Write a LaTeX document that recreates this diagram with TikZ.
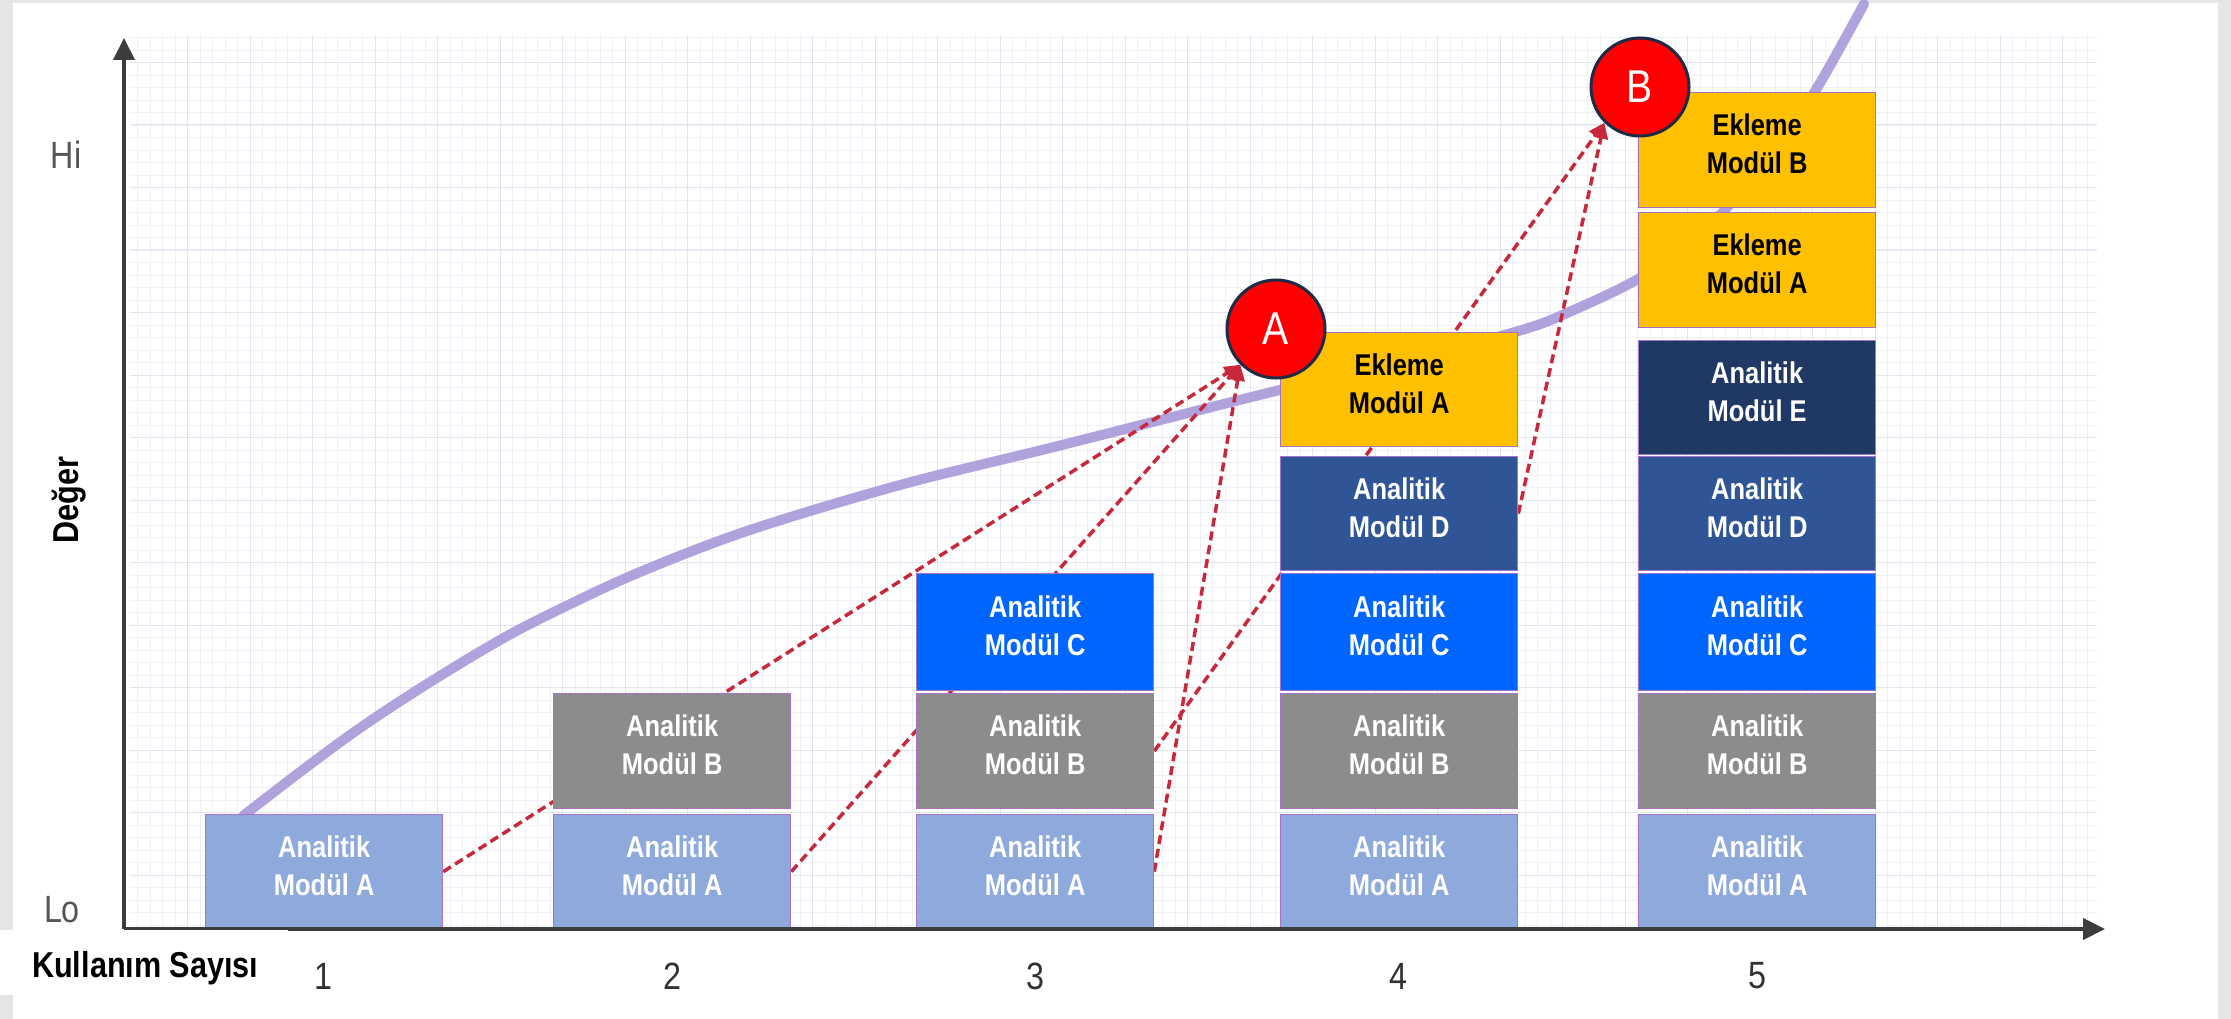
\documentclass[tikz,border=0pt]{standalone}
\usepackage{fontspec}
\setmainfont{Liberation Sans}
\newfontfamily\nar[FakeStretch=0.85]{Liberation Sans}
\usetikzlibrary{arrows.meta}
\definecolor{bgray}{RGB}{229,229,229}
\definecolor{cA}{RGB}{142,169,219}
\definecolor{cB}{RGB}{140,140,140}
\definecolor{cC}{RGB}{0,102,255}
\definecolor{cD}{RGB}{47,85,151}
\definecolor{cE}{RGB}{31,56,100}
\definecolor{cY}{RGB}{255,192,0}
\definecolor{edgec}{RGB}{165,115,205}
\definecolor{curvec}{RGB}{163,148,216}
\definecolor{arrc}{RGB}{200,40,60}
\definecolor{navyc}{RGB}{30,42,70}
\definecolor{axisc}{RGB}{60,60,60}
\definecolor{lblc}{RGB}{85,85,85}
\definecolor{numc}{RGB}{50,50,50}
\definecolor{gmin}{RGB}{238,240,247}
\definecolor{gmaj}{RGB}{226,229,240}
\pgfdeclarelayer{bgl}
\pgfdeclarelayer{curvel}
\pgfdeclarelayer{arrl}
\pgfsetlayers{bgl,curvel,arrl,main}
\newcommand\modbox[7]{%
  \node[modbox, minimum height=#4pt, fill=#5] (#1) at (#2,#3) {};
  \node[boxtxt, text=#6] (#1t) at ([yshift=6pt]#1.center) {#7};}
\begin{document}
\begin{tikzpicture}[x=1pt,y=-1pt,
  modbox/.style={anchor=north west, minimum width=237pt, inner sep=0pt, draw=edgec, line width=1.3pt},
  boxtxt/.style={align=center, inner sep=0pt, font=\nar\bfseries\fontsize{30}{38}\selectfont},
  circ/.style={circle, fill=red, draw=navyc, line width=3pt, minimum size=98pt, inner sep=0pt, text=white, font=\nar\fontsize{46}{46}\selectfont},
  darr/.style={draw=arrc, line width=3.5pt, dash pattern=on 9pt off 5pt, -{Triangle[length=16pt,width=14pt,fill=arrc]}},
  axisl/.style={draw=axisc, line width=4pt, -{Triangle[length=22pt,width=21pt]}},
  numl/.style={text=numc, font=\nar\fontsize{38}{38}\selectfont},
  hilo/.style={text=lblc, font=\nar\fontsize{38}{38}\selectfont},
  axtitle/.style={text=black, font=\nar\bfseries\fontsize{36}{36}\selectfont},
  curvest/.style={draw=curvec, line width=10pt, line cap=round, opacity=0.85}
]
\useasboundingbox (0,0) rectangle (2231,1019);
\begin{pgfonlayer}{bgl}
\fill[bgray] (0,0) rectangle (2231,1019);
\fill[white] (13,3) rectangle (2218,1019);
\draw[gmin, line width=0.8pt, step=12.5pt] (130,35) grid (2097,929);
\draw[gmaj, line width=1pt, step=62.5pt] (130,35) grid (2097,929);
\end{pgfonlayer}

% boxes
\modbox{c1a}{205}{814}{114}{cA}{white}{Analitik\\Modül A}
\modbox{c2a}{553}{814}{114}{cA}{white}{Analitik\\Modül A}
\modbox{c2b}{553}{693}{115}{cB}{white}{Analitik\\Modül B}
\modbox{c3a}{916}{814}{114}{cA}{white}{Analitik\\Modül A}
\modbox{c3b}{916}{693}{115}{cB}{white}{Analitik\\Modül B}
\modbox{c3c}{916}{573}{117}{cC}{white}{Analitik\\Modül C}
\modbox{c4a}{1280}{814}{114}{cA}{white}{Analitik\\Modül A}
\modbox{c4b}{1280}{693}{115}{cB}{white}{Analitik\\Modül B}
\modbox{c4c}{1280}{573}{117}{cC}{white}{Analitik\\Modül C}
\modbox{c4d}{1280}{456}{114}{cD}{white}{Analitik\\Modül D}
\modbox{c4ea}{1280}{332}{114}{cY}{black}{Ekleme\\Modül A}
\modbox{c5a}{1638}{814}{114}{cA}{white}{Analitik\\Modül A}
\modbox{c5b}{1638}{693}{115}{cB}{white}{Analitik\\Modül B}
\modbox{c5c}{1638}{573}{117}{cC}{white}{Analitik\\Modül C}
\modbox{c5d}{1638}{456}{114}{cD}{white}{Analitik\\Modül D}
\modbox{c5e}{1638}{340}{114}{cE}{white}{Analitik\\Modül E}
\modbox{c5ea}{1638}{212}{115}{cY}{black}{Ekleme\\Modül A}
\modbox{c5eb}{1638}{92}{115}{cY}{black}{Ekleme\\Modül B}

% circles
\node[circ] (cirA) at (1276,329) {A};
\node[circ] (cirB) at (1640,87) {B};

% curve
\begin{pgfonlayer}{curvel}
\draw[curvest] plot[smooth, tension=0.55] coordinates {(243,816) (300,772) (360,728) (427,684) (500,640) (558,610) (640,572) (750,530) (900,485) (1050,448) (1200,410) (1280,390) (1400,362) (1515,332) (1567,313) (1650,272) (1720,215) (1780,140) (1817,88) (1864,4)};
\end{pgfonlayer}

% arrows
\begin{pgfonlayer}{arrl}
\draw[darr] (c1a.east) -- (cirA.225);
\draw[darr] (c2a.east) -- (cirA.225);
\draw[darr] (c3a.east) -- (cirA.225);
\draw[darr] (c3b.east) -- (cirB.225);
\draw[darr] (c4d.east) -- (cirB.225);
\end{pgfonlayer}

% axes
\coordinate (orig) at (124,929);
\coordinate (ytop) at (124,38);
\coordinate (xend) at (2105,929);
\draw[axisl] (orig) -- (ytop);
\draw[axisl] (orig) -- (xend);

% labels
\node[hilo] (hi) at (66,155) {Hi};
\node[hilo] (lo) at (62,910) {Lo};
\node[axtitle, rotate=90] (ylbl) at (69,500) {Değer};
\fill[white] (0,930) rectangle (288,995);
\node[axtitle, anchor=base west, inner sep=0pt] (xlbl) at (32,977) {Kullanım Sayısı};
\node[numl] (n1) at (323,976) {1};
\node[numl] (n2) at (672,976) {2};
\node[numl] (n3) at (1035,976) {3};
\node[numl] (n4) at (1398,976) {4};
\node[numl] (n5) at (1757,976) {5};
\end{tikzpicture}
\end{document}
